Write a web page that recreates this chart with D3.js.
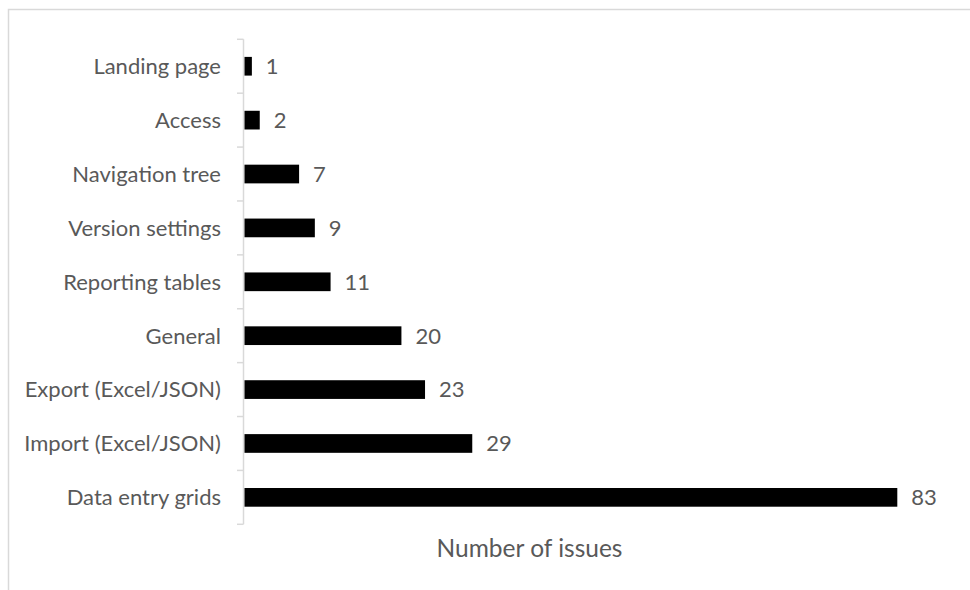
<!DOCTYPE html>
<html lang="en">
<head>
<meta charset="utf-8">
<style>
    body { margin: 0; background: #fff; }
    .cat_text { font-family: Lato, "Open Sans", sans-serif; font-size: 22px; fill: #595959; }
    .val_text { font-family: Lato, "Open Sans", sans-serif; font-size: 22px; fill: #595959; }
    .title_text { font-family: Lato, "Open Sans", sans-serif; font-size: 24.5px; fill: #595959; }
</style>
</head>
<body>
<div id="graph"></div>
<script src="https://cdn.jsdelivr.net/npm/d3@7/dist/d3.min.js"></script>
<script>
// values, top to bottom
var categories = ["Landing page", "Access", "Navigation tree", "Version settings",
    "Reporting tables", "General", "Export (Excel/JSON)", "Import (Excel/JSON)", "Data entry grids"];
var issues = [1, 2, 7, 9, 11, 20, 23, 29, 83];
var axisTitle = "Number of issues";

var width = 970, height = 590;
var plot = {left: 244, right: 952.4, top: 39.3, bottom: 524.3};

var svg = d3.select("#graph").append("svg")
    .attr("width", width)
    .attr("height", height);

// chart area border (runs off the right and bottom edges)
svg.append("rect")
    .attr("x", 8.5).attr("y", 9.5)
    .attr("width", 1000).attr("height", 700)
    .attr("fill", "none")
    .attr("stroke", "#d9d9d9")
    .attr("stroke-width", 1.5);

var x = d3.scaleLinear()
    .domain([0, 90])
    .range([plot.left, plot.right]);

var y = d3.scaleBand()
    .domain(categories)
    .range([plot.top, plot.bottom])
    .paddingInner(0.653)
    .paddingOuter(0.3265);

var data = categories.map(function(c, i) { return {cat: c, val: issues[i]}; });

// category axis: line + ticks at band boundaries
var half = y.step() * y.paddingInner() / 2;
var bounds = categories.map(function(c) { return y(c) - half; });
bounds.push(plot.bottom);

svg.append("line")
    .attr("x1", plot.left - 0.5).attr("x2", plot.left - 0.5)
    .attr("y1", plot.top).attr("y2", plot.bottom)
    .attr("stroke", "#d9d9d9").attr("stroke-width", 1.5);

svg.selectAll(".tick_mark")
    .data(bounds)
    .enter()
    .append("line")
    .attr("class", "tick_mark")
    .attr("x1", plot.left - 7).attr("x2", plot.left - 0.5)
    .attr("y1", function(d) { return d; })
    .attr("y2", function(d) { return d; })
    .attr("stroke", "#d9d9d9").attr("stroke-width", 1.5);

svg.selectAll(".cat_text")
    .data(data)
    .enter()
    .append("text")
    .attr("class", "cat_text")
    .attr("x", plot.left - 23)
    .attr("y", function(d) { return y(d.cat) + y.bandwidth() / 2; })
    .attr("dy", "0.36em")
    .attr("text-anchor", "end")
    .text(function(d) { return d.cat; });

// bars
svg.selectAll(".bar")
    .data(data)
    .enter()
    .append("rect")
    .attr("class", "bar")
    .attr("x", x(0) + 0.5)
    .attr("y", function(d) { return y(d.cat); })
    .attr("width", function(d) { return x(d.val) - x(0) - 0.5; })
    .attr("height", y.bandwidth())
    .attr("fill", "#000");

svg.selectAll(".val_text")
    .data(data)
    .enter()
    .append("text")
    .attr("class", "val_text")
    .attr("x", function(d) { return x(d.val) + 14; })
    .attr("y", function(d) { return y(d.cat) + y.bandwidth() / 2; })
    .attr("dy", "0.36em")
    .text(function(d) { return d.val; });

svg.append("text")
    .attr("class", "title_text")
    .attr("x", 529.5)
    .attr("y", 557)
    .attr("text-anchor", "middle")
    .text(axisTitle);
</script>
</body>
</html>
